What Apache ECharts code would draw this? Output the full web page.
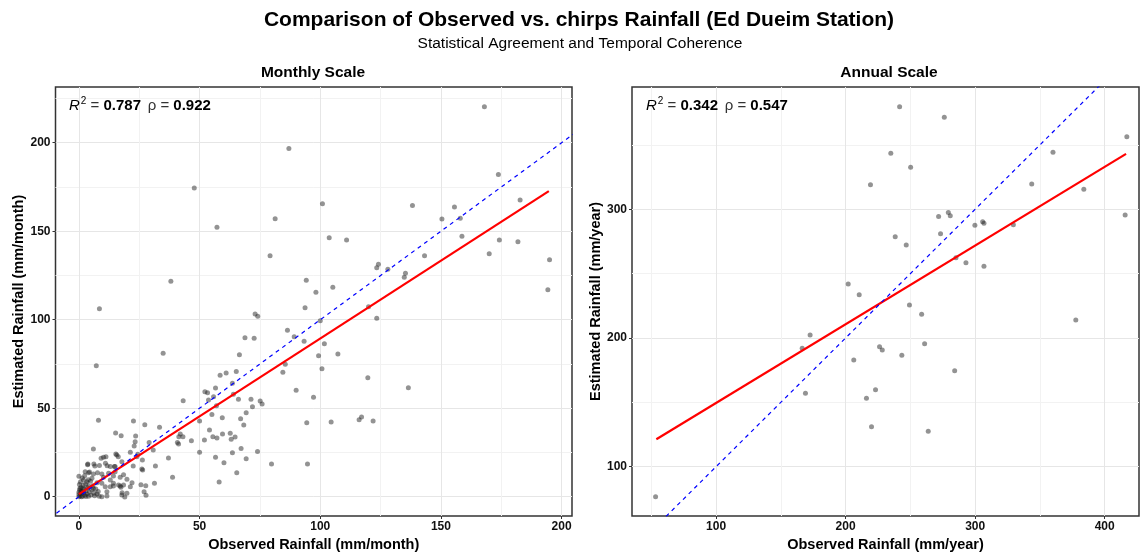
<!DOCTYPE html>
<html>
<head>
<meta charset="utf-8">
<script src="https://cdn.jsdelivr.net/npm/echarts@6/dist/echarts.min.js"></script>
<style>
  html, body { margin: 0; padding: 0; background: #fff; }
  #main { width: 1140px; height: 553px; }
</style>
</head>
<body>
<div id="main"></div>
<script>
// monthly scale: observed vs chirps (mm/month)
var monthly_points = [
  [8.5,106.2],[38.1,121.7],[47.8,174.4],[57.2,152.2],[79.2,136.2],[81.3,157.1],[87,196.8],
  [168,220.3],[100.9,165.5],[103.7,146.3],[110.9,145],[138.2,164.6],[155.6,163.7],[150.4,156.9],
  [158,157.3],[158.7,147.1],[173.8,182.1],[182.8,167.6],[174.2,145],[181.9,144.1],[170,137.3],
  [195,133.9],[194.3,117],[143.2,136.2],[123.4,129.4],[124.1,131.3],[128,128.5],[134.8,124],
  [135.3,126.2],[94.2,122.3],[98.2,115.5],[105.2,118.3],[93.7,106.8],
  [120,107.3],[123.4,100.8],[86.4,94],[89.2,90.4],[93.3,87.8],[100,99.4],[101.7,86.4],[99.3,79.7],
  [107.3,80.6],[85.5,74.8],[84.5,70.3],[100.7,72.3],[119.7,67.2],[136.5,61.6],[90,60.1],[97.2,56.2],
  [94.4,41.8],[104.5,42.2],[116.1,43.5],[117.1,45],[121.9,42.8],[94.7,18.5],
  [7.2,74],[8.1,43.2],[34.9,81],[6,27],[43.2,54.2],[73,103.2],[74.1,101.9],[68.8,89.8],[72.6,89.5],
  [66.5,80.2],[58.5,68.6],[61,69.9],[65.2,70.8],[52.2,59.3],[53.3,58.8],[56.6,61.4],[53.7,54.6],
  [55.8,56.5],[63.6,64.1],[64,57.9],[66.1,55],[71.3,55],[75.1,54.1],[75.9,52.4],[71.9,50.9],[57,51.4],
  [55.1,46.5],[59.4,44.6],[67,44.1],[69.3,47.5],[68.3,40.5],[50,42.8],[54.1,37.7],[55.5,33.9],
  [57.2,33.2],[52,32],[46.6,31.6],[59.5,35.4],[62.7,35.8],[64.7,33.7],[63.1,32.4],[42,35.4],[43.1,33.9],
  [41.4,33.9],[40.8,30.7],[41.3,29.8],[33.4,39.2],[27.3,40.7],[29.1,30.7],[30.8,26.4],[50,25.1],
  [56.6,22.3],[60.1,19.2],[63.6,24.9],[65.4,13.6],[67.2,27.3],[69.3,21.5],[74,25.6],[79.8,18.5],
  [58.1,8.3],[37.1,21.9],[38.8,11],[31.7,17.3],[31.3,7.6],[25.7,6.8],[27.7,6.2],[27,2.8],[27.8,0.8],
  [26.3,20.7],[26.1,15.6],[26.4,15.1],[22.5,17.3],[22.6,42.8],[23.5,34.3],[23.3,31.1],[22.9,28.6],
  [21.3,25.1],[24.4,24],[24,22.6],[17.5,34.5],[15.2,36],[15.3,24.1],[16.3,22.6],[17.8,19.8],[15,17],
  [15,14.1],[17.1,6],[17.9,2.3],[19,-0.2],[14.3,6],[13,9.4],
  [3.7,18.5],[10.2,22.3],[11.2,22.6],[6.6,17.3],[8.5,17.7],[15.7,23.6],[14.7,17],[13,17],[2.6,14.1],
  [4.4,14],[6,12.8],[7.7,13.6],[9.5,12.8],[10.2,11],[12.3,13.2],[14.3,11.7],[17.1,11],[18.5,12.4],
  [19.9,9.8],[1.9,9.4],[3.3,8.5],[5.4,10.4],[7.5,7.9],[4,6],[6,4.7],[9.5,7.6],[10.9,5.6],[11.6,2.8],
  [13,5.6],[14.3,7.6],[16.4,6.6],[17.4,5.3],[18.5,6.6],[21.3,5.6],[22,7.9],[17.8,1],[19.9,1.9],
  [9.5,0],[11.6,0.4],[6.2,18.5],[3.6,18.1],[4,13.6],[11,18.9],[11.7,17.5],[9.2,21.7],
  [0,0],[0,1.2],[0,2.5],[0.3,3.8],[0.5,0.5],[0.8,5.2],[1,1.8],[1.2,3],[1.5,0.2],[1.8,6.5],[2,2.2],
  [2.2,4.4],[2.5,0.8],[2.8,7.2],[3,3.3],[3.3,1.5],[3.6,5.1],[4,0.3],[4.3,2.7],[4.8,8.8],[5,1],
  [5.3,3.9],[5.8,6.2],[6.2,2],[6.5,0.6],[7,4.3],[7.5,1.5],[8,3],[8.4,0.2],[0.2,6.9],[0.6,8.3],
  [1.4,10.6],[0,11.5],[2.4,11.8],[0.4,4.6],[1.1,0],[2.9,0.1],[3.9,9.6],[0.9,2.8],[1.6,4.9]
];
var monthly_fit = [[0,1.5],[194.7,172.7]];
var monthly_identity = [[-20,-20],[260,260]];
var monthly_x_ticks = [0,50,100,150,200];
var monthly_x_minor = [25,75,125,175];
var monthly_y_ticks = [0,50,100,150,200];
var monthly_y_minor = [25,75,125,175,225];

// annual scale (mm/year)
var annual_points = [
  [53.3,76.7],[166.5,192],[172.6,202.3],[169,157],[206.3,182.9],[202,242],[210.5,233.5],
  [216.1,153.1],[220,131.1],[223.1,159.8],[226.2,193.2],[228.3,190.7],[243.4,186.6],[261,195.6],
  [263.8,127.5],[284.2,174.6],[249.3,225.6],[258.7,218.4],[377.7,214],[241.7,379.7],[276.2,371.5],
  [234.9,343.5],[250.2,332.6],[219.2,319.1],[360.1,344.3],[417.1,356.4],[343.7,319.7],[383.9,315.5],
  [415.8,295.6],[271.8,294.3],[279.3,297.4],[280.8,295],[299.8,287.6],[305.8,290.4],[306.8,289.1],
  [329.5,288],[238.3,278.7],[273.3,281],[246.8,272.3],[285.2,262.4],[292.9,258.5],[306.8,255.7]
];
var annual_fit = [[53.9,121.3],[416.5,343]];
var annual_identity = [[0,0],[460,460]];
var annual_x_ticks = [100,200,300,400];
var annual_x_minor = [50,150,250,350];
var annual_y_ticks = [100,200,300];
var annual_y_minor = [150,250,350];

var FONT = '"Liberation Sans", Arial, sans-serif';

function major_axis(grid, lo, hi, ticks, name, gap){
  return {
    type: 'value', gridIndex: grid, min: lo, max: hi, scale: true,
    name: name, nameLocation: 'middle', nameGap: gap,
    nameTextStyle: {fontFamily: FONT, fontWeight: 'bold', fontSize: 14.5, color: '#000'},
    axisLine: {show: false, onZero: false},
    axisTick: {show: true, length: 3, customValues: ticks, lineStyle: {color: '#333', width: 1}},
    axisLabel: {customValues: ticks, margin: 5, fontFamily: FONT, fontWeight: 'bold', fontSize: 12, color: '#111'},
    splitLine: {show: true, lineStyle: {color: '#e6e6e6', width: 1}}
  };
}
function minor_axis(grid, lo, hi, ticks){
  return {
    type: 'value', gridIndex: grid, min: lo, max: hi,
    axisLine: {show: false, onZero: false},
    axisTick: {show: false, customValues: ticks},
    axisLabel: {show: false, customValues: ticks},
    splitLine: {show: true, lineStyle: {color: '#f2f2f2', width: 1}}
  };
}

function stat_text(x, r2, rho){
  return {
    type: 'text', x: x, y: 106, z: 100,
    style: {
      text: '{i|R}{s|2}{n| = }{b|' + r2 + '}  {n|ρ = }{b|' + rho + '}',
      verticalAlign: 'middle',
      rich: {
        i: {fontFamily: FONT, fontStyle: 'italic', fontSize: 15, fill: '#000'},
        s: {fontFamily: FONT, fontSize: 10, fill: '#000', verticalAlign: 'top', padding: [0,0,9,1]},
        n: {fontFamily: FONT, fontSize: 15, fill: '#333'},
        b: {fontFamily: FONT, fontSize: 15, fontWeight: 'bold', fill: '#000'}
      }
    }
  };
}

var chart = echarts.init(document.getElementById('main'), null, {renderer: 'canvas'});
chart.setOption({
  animation: false,
  backgroundColor: '#fff',
  grid: [
    {left: 55.5, top: 87, width: 516.5, height: 429, outerBoundsMode: 'none', containLabel: false,
     show: true, borderColor: '#333', borderWidth: 1.5, backgroundColor: '#fff'},
    {left: 632, top: 87, width: 507, height: 429, outerBoundsMode: 'none', containLabel: false,
     show: true, borderColor: '#333', borderWidth: 1.5, backgroundColor: '#fff'}
  ],
  xAxis: [
    major_axis(0, -9.7, 204.3, monthly_x_ticks, 'Observed Rainfall (mm/month)', 20),
    minor_axis(0, -9.7, 204.3, monthly_x_minor),
    major_axis(1, 35.1, 426.5, annual_x_ticks, 'Observed Rainfall (mm/year)', 20),
    minor_axis(1, 35.1, 426.5, annual_x_minor)
  ],
  yAxis: [
    major_axis(0, -10.9, 231.5, monthly_y_ticks, 'Estimated Rainfall (mm/month)', 29),
    minor_axis(0, -10.9, 231.5, monthly_y_minor),
    major_axis(1, 61.7, 395, annual_y_ticks, 'Estimated Rainfall (mm/year)', 28),
    minor_axis(1, 61.7, 395, annual_y_minor)
  ],
  series: [
    {type: 'scatter', xAxisIndex: 0, yAxisIndex: 0, data: monthly_points, symbolSize: 5,
     itemStyle: {color: 'rgba(30,30,30,0.6)'}, silent: true},
    {type: 'line', xAxisIndex: 0, yAxisIndex: 0, data: monthly_fit, showSymbol: false, symbol: 'none',
     lineStyle: {color: '#ff0000', width: 2.2}, silent: true},
    {type: 'line', xAxisIndex: 0, yAxisIndex: 0, data: monthly_identity, showSymbol: false, symbol: 'none', clip: true,
     lineStyle: {color: '#0000ff', width: 1.2, type: [4,4]}, silent: true},
    {type: 'scatter', xAxisIndex: 2, yAxisIndex: 2, data: annual_points, symbolSize: 5,
     itemStyle: {color: 'rgba(30,30,30,0.6)'}, silent: true},
    {type: 'line', xAxisIndex: 2, yAxisIndex: 2, data: annual_fit, showSymbol: false, symbol: 'none',
     lineStyle: {color: '#ff0000', width: 2.2}, silent: true},
    {type: 'line', xAxisIndex: 2, yAxisIndex: 2, data: annual_identity, showSymbol: false, symbol: 'none', clip: true,
     lineStyle: {color: '#0000ff', width: 1.2, type: [4,4]}, silent: true}
  ],
  graphic: [
    {type: 'text', x: 579, y: 20, style: {text: 'Comparison of Observed vs. chirps Rainfall (Ed Dueim Station)',
      align: 'center', verticalAlign: 'middle', font: 'bold 21px ' + FONT, fill: '#000'}},
    {type: 'text', x: 580, y: 44, style: {text: 'Statistical Agreement and Temporal Coherence',
      align: 'center', verticalAlign: 'middle', font: '15.5px ' + FONT, fill: '#000'}},
    {type: 'text', x: 313, y: 73, style: {text: 'Monthly Scale',
      align: 'center', verticalAlign: 'middle', font: 'bold 15.5px ' + FONT, fill: '#000'}},
    {type: 'text', x: 889, y: 73, style: {text: 'Annual Scale',
      align: 'center', verticalAlign: 'middle', font: 'bold 15.5px ' + FONT, fill: '#000'}},
    stat_text(69, '0.787', '0.922'),
    stat_text(646, '0.342', '0.547')
  ]
});
</script>
</body>
</html>
